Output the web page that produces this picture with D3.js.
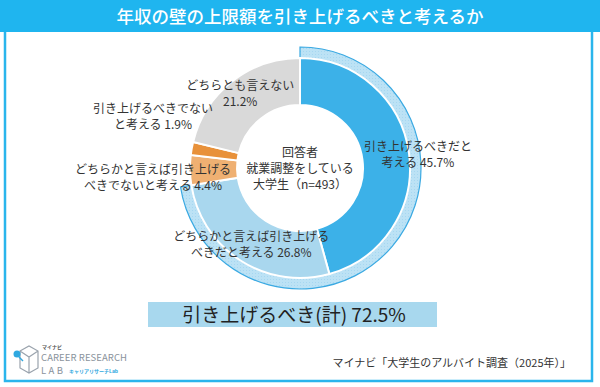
<!DOCTYPE html>
<html>
<head>
<meta charset="UTF-8">
<script src="https://d3js.org/d3.v7.min.js"></script>
<style>
    body { margin: 0; background: #fff; }
    svg text { font-family: "Noto Sans CJK JP", "Noto Sans", sans-serif; }
</style>
</head>
<body>
<svg width="600" height="387" id="canvas"></svg>
<script>
    // survey answers, clockwise from 12 o'clock
    var categories = [
        ["引き上げるべきだと", "考える"],
        ["どちらかと言えば引き上げる", "べきだと考える"],
        ["どちらかと言えば引き上げる", "べきでないと考える"],
        ["引き上げるべきでない", "と考える"],
        ["どちらとも言えない", ""]
    ];
    var values = [45.7, 26.8, 4.4, 1.9, 21.2];
    var colors = ["#3cb1e8", "#a9d7ee", "#efb072", "#e8913a", "#d9d9d9"];
    var raiseTotal = 72.5;
    var centerLines = ["回答者", "就業調整をしている", "大学生（n=493）"];
    var title = "年収の壁の上限額を引き上げるべきと考えるか";
    var source = "マイナビ「大学生のアルバイト調査（2025年）」";

    var svg = d3.select("#canvas");
    var cx = 300, cy = 168;

    // frame + title bar
    svg.append("rect").attr("x", 5).attr("y", 20).attr("width", 587).attr("height", 361)
        .attr("fill", "#fff").attr("stroke", "#2ab5ec").attr("stroke-width", 2.5);
    svg.append("rect").attr("x", 0).attr("y", 0).attr("width", 600).attr("height", 32)
        .attr("fill", "#1fb5ef");
    svg.append("text").attr("x", 300).attr("y", 22.5).attr("text-anchor", "middle")
        .attr("fill", "#fff").attr("font-size", 17.5).attr("font-weight", 500)
        .text(title);

    // light texture for the outer "raise" band
    var defs = svg.append("defs");
    var pat = defs.append("pattern").attr("id", "hatch").attr("patternUnits", "userSpaceOnUse")
        .attr("width", 3).attr("height", 3);
    pat.append("rect").attr("width", 3).attr("height", 3).attr("fill", "#bce2f5");
    pat.append("rect").attr("width", 1).attr("height", 1).attr("fill", "#a6d7f1");

    var pie = d3.pie().sort(null).value(function (d) { return d; });
    var arcs = pie(values);

    var arc = d3.arc().innerRadius(63).outerRadius(110);
    var g = svg.append("g").attr("transform", "translate(" + cx + "," + cy + ")");

    // outer band covering the two "raise" answers
    g.append("path")
        .attr("d", d3.arc().innerRadius(109).outerRadius(121)({ startAngle: 0, endAngle: arcs[1].endAngle }))
        .attr("fill", "url(#hatch)").attr("stroke", "#3aa9e2").attr("stroke-width", 1.2);

    g.selectAll(".slice")
        .data(arcs)
        .enter()
        .append("path")
        .attr("class", "slice")
        .attr("d", arc)
        .attr("fill", function (d, i) { return colors[i]; })
        .attr("stroke", "#fff")
        .attr("stroke-width", 2);

    // slice labels: radius along the mid angle, then a small nudge
    var labelR = [118, 92, 0, 0, 92];
    var nudge = [[1, 3], [1, 0], [0, 0], [0, 0], [-3, -2]];
    arcs.forEach(function (d, i) {
        var mid = (d.startAngle + d.endAngle) / 2;
        var x, y;
        if (labelR[i] > 0) {
            x = labelR[i] * Math.sin(mid) + nudge[i][0];
            y = -labelR[i] * Math.cos(mid) + nudge[i][1];
        } else {
            // small orange slices: label sits out to the left
            x = -147;
            y = -110 * Math.cos(mid) + (i == 2 ? 8 : -31);
        }
        var lines = categories[i][1] == ""
            ? [categories[i][0], values[i] + "%"]
            : [categories[i][0], categories[i][1] + " " + values[i] + "%"];
        var t = g.append("text").attr("text-anchor", "middle")
            .attr("font-size", 12).attr("fill", "#333");
        lines.forEach(function (l, k) {
            t.append("tspan").attr("x", x).attr("y", y - 4 + k * 16).text(l);
        });
    });

    // center text
    var ct = g.append("text").attr("text-anchor", "middle").attr("font-size", 12).attr("fill", "#333");
    centerLines.forEach(function (l, k) {
        ct.append("tspan").attr("x", 0).attr("y", -11 + k * 16).text(l);
    });

    // total box
    svg.append("rect").attr("x", 148).attr("y", 302).attr("width", 289).attr("height", 25)
        .attr("fill", "#a8d8ee");
    svg.append("text").attr("x", 294).attr("y", 321.5).attr("text-anchor", "middle")
        .attr("font-size", 19).attr("fill", "#222")
        .text("引き上げるべき(計) " + raiseTotal + "%");

    // source
    svg.append("text").attr("x", 571).attr("y", 367).attr("text-anchor", "end")
        .attr("font-size", 11).attr("fill", "#333").text(source);

    // logo
    var logo = svg.append("g");
    logo.append("path").attr("d", "M20,351 L29,346 L38,351 L38,368 L29,373 L20,368 Z M20,351 L29,357 L38,351 M29,357 L29,373")
        .attr("fill", "none").attr("stroke", "#9aa3ad").attr("stroke-width", 1.2);
    logo.append("circle").attr("cx", 17).attr("cy", 354).attr("r", 3.5).attr("fill", "#2fa8e0");
    logo.append("line").attr("x1", 19).attr("y1", 357).attr("x2", 23).attr("y2", 361)
        .attr("stroke", "#2fa8e0").attr("stroke-width", 1.5);
    logo.append("text").attr("x", 42).attr("y", 349).attr("font-size", 5).attr("font-weight", 700)
        .attr("fill", "#555").text("マイナビ");
    logo.append("text").attr("x", 41).attr("y", 361).attr("font-size", 9.5).attr("fill", "#8a939c")
        .attr("textLength", 86).text("CAREER RESEARCH");
    logo.append("text").attr("x", 41).attr("y", 374).attr("font-size", 9.5).attr("fill", "#8a939c")
        .attr("textLength", 22).text("LAB");
    logo.append("text").attr("x", 69).attr("y", 373).attr("font-size", 5).attr("font-weight", 700)
        .attr("fill", "#2fa8e0").text("キャリアリサーチLab");
</script>
</body>
</html>
